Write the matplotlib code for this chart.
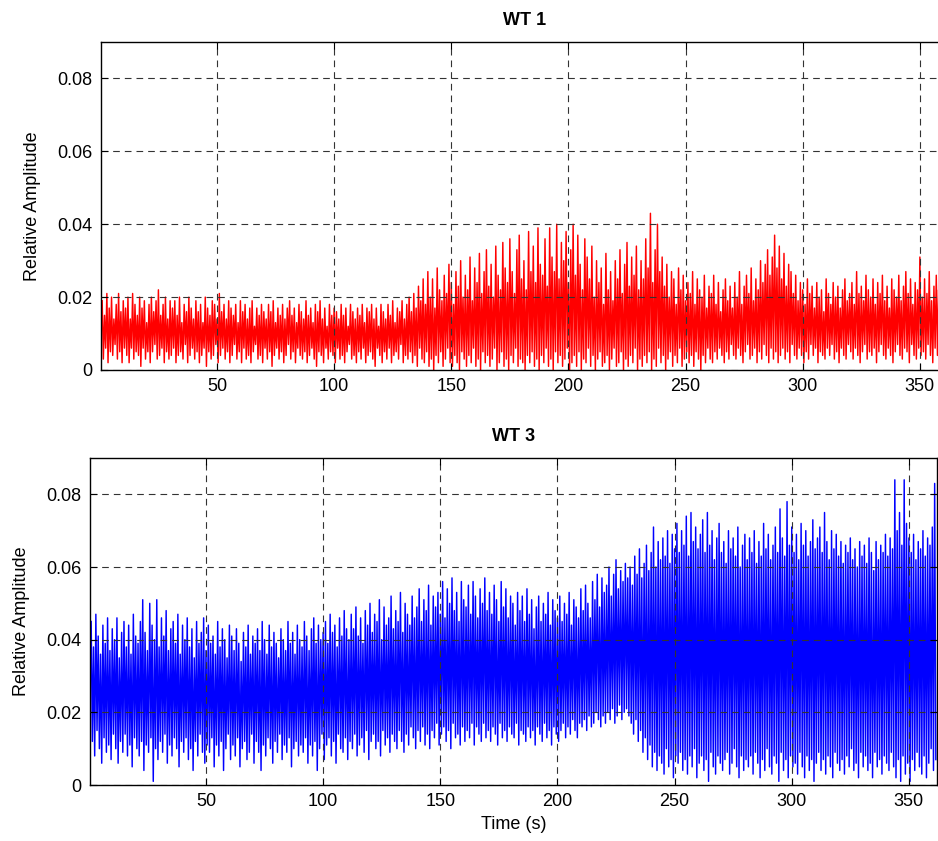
import matplotlib
matplotlib.use('Agg')
import matplotlib.pyplot as plt
import numpy as np

plt.rcParams['font.family'] = ['Liberation Sans', 'DejaVu Sans']

# peak / trough amplitudes in units of 0.001, one pair per second
wt1_peaks = [
    19, 15, 21, 17, 20, 14, 18, 21, 16, 19, 17, 20, 14, 21, 18, 15, 20, 17, 19, 13,
    18, 20, 16, 19, 22, 15, 18, 20, 14, 19, 17, 19, 15, 20, 13, 18, 16, 20, 17, 14,
    19, 16, 18, 13, 20, 17, 15, 19, 18, 14, 21, 16, 18, 14, 19, 17, 15, 18, 13, 19,
    16, 18, 14, 17, 19, 12, 17, 15, 18, 16, 14, 18, 16, 19, 13, 17, 15, 18, 14, 17,
    19, 15, 17, 13, 18, 16, 14, 19, 15, 17, 13, 18, 16, 19, 14, 17, 12, 18, 15, 17,
    16, 14, 18, 15, 17, 12, 18, 16, 14, 17, 15, 18, 13, 17, 16, 18, 14, 17, 12, 18,
    16, 14, 18, 15, 19, 13, 17, 16, 19, 14, 18, 20, 16, 21, 17, 23, 19, 25, 18, 27,
    20, 25, 17, 28, 22, 19, 26, 21, 29, 24, 18, 27, 23, 30, 20, 26, 22, 31, 19, 28,
    24, 32, 21, 27, 33, 23, 29, 20, 34, 26, 22, 35, 28, 24, 36, 27, 21, 33, 37, 25,
    30, 22, 38, 27, 34, 24, 39, 29, 26, 36, 23, 39, 31, 27, 40, 25, 35, 30, 38, 24,
    33, 40, 26, 37, 29, 22, 36, 31, 25, 34, 20, 30, 24, 28, 18, 32, 22, 27, 19, 30,
    25, 33, 21, 29, 35, 23, 31, 26, 34, 22, 30, 25, 36, 28, 43, 24, 33, 40, 27, 31,
    23, 29, 20, 27, 25, 18, 28, 22, 26, 19, 24, 21, 27, 18, 25, 22, 20, 26, 17, 23,
    21, 26, 18, 24, 16, 22, 25, 19, 23, 17, 24, 20, 27, 18, 23, 26, 21, 28, 19, 25,
    22, 30, 24, 29, 33, 26, 31, 37, 28, 34, 25, 32, 23, 29, 27, 21, 26, 19, 24, 22,
    18, 25, 21, 23, 17, 24, 20, 22, 16, 25, 21, 18, 24, 20, 23, 17, 22, 25, 19, 21,
    24, 18, 27, 21, 23, 19, 26, 22, 20, 25, 18, 24, 21, 26, 19, 23, 17, 25, 22, 20,
    26, 19, 23, 27, 21, 25, 18, 24, 22, 31, 20, 25, 21, 27, 19, 23, 26, 22,
]
wt1_troughs = [
    3, 6, 2, 5, 4, 7, 3, 5, 2, 6, 4, 2, 6, 3, 5, 4, 1, 6, 3, 5,
    2, 5, 7, 3, 4, 6, 2, 5, 3, 4, 6, 2, 4, 5, 3, 7, 2, 4, 6, 3,
    5, 2, 4, 6, 1, 5, 3, 4, 7, 2, 4, 6, 3, 5, 2, 4, 7, 3, 5, 2,
    6, 3, 4, 2, 5, 7, 3, 4, 2, 6, 3, 5, 1, 4, 6, 3, 5, 2, 4, 7,
    3, 5, 2, 6, 4, 3, 5, 2, 4, 6, 3, 1, 5, 4, 2, 6, 3, 5, 4, 2,
    6, 3, 4, 2, 5, 7, 3, 4, 2, 5, 3, 6, 2, 4, 5, 3, 1, 6, 4, 2,
    5, 3, 6, 2, 4, 5, 3, 7, 2, 4, 3, 5, 2, 4, 1, 6, 3, 2, 5, 1,
    3, 0, 4, 2, 5, 1, 3, 6, 2, 1, 4, 2, 0, 5, 3, 1, 4, 2, 6, 1,
    3, 0, 5, 2, 4, 1, 3, 6, 0, 2, 5, 1, 3, 0, 4, 2, 6, 1, 3, 2,
    0, 4, 2, 5, 1, 3, 0, 4, 2, 6, 1, 3, 0, 5, 2, 4, 1, 3, 6, 0,
    2, 4, 1, 5, 0, 3, 2, 6, 1, 4, 0, 3, 5, 1, 2, 4, 0, 3, 6, 1,
    2, 5, 0, 3, 1, 4, 2, 6, 0, 3, 1, 4, 2, 5, 0, 3, 1, 6, 2, 4,
    0, 3, 5, 1, 4, 2, 6, 1, 3, 5, 2, 4, 1, 5, 3, 0, 4, 2, 6, 3,
    2, 5, 3, 6, 4, 2, 5, 3, 7, 4, 3, 6, 4, 2, 5, 7, 3, 4, 6, 2,
    5, 3, 7, 4, 2, 6, 3, 5, 2, 4, 6, 3, 5, 2, 7, 4, 3, 6, 4, 2,
    5, 3, 7, 4, 6, 2, 5, 4, 3, 6, 4, 7, 3, 5, 2, 6, 4, 3, 7, 5,
    3, 6, 4, 2, 5, 7, 3, 5, 4, 6, 2, 5, 7, 4, 3, 6, 4, 2, 5, 7,
    4, 3, 6, 5, 2, 7, 4, 3, 6, 4, 5, 3, 7, 4, 2, 6, 4, 5,
]
wt3_peaks = [
    45, 38, 47, 41, 36, 44, 39, 46, 37, 43, 40, 46, 35, 42, 45, 38, 44, 36, 47, 41,
    39, 45, 51, 42, 37, 50, 44, 40, 51, 38, 46, 41, 48, 37, 43, 45, 39, 47, 36, 44,
    40, 46, 38, 43, 35, 45, 39, 42, 46, 37, 44, 39, 41, 36, 45, 38, 43, 40, 35, 44,
    41, 37, 43, 39, 34, 42, 38, 44, 36, 41, 39, 43, 37, 45, 40, 36, 44, 38, 42, 39,
    35, 43, 40, 37, 45, 39, 42, 36, 44, 40, 38, 45, 41, 37, 43, 46, 39, 44, 40, 42,
    45, 39, 47, 42, 44, 38, 46, 41, 48, 43, 40, 47, 43, 49, 41, 46, 39, 48, 44, 50,
    42, 47, 45, 51, 40, 49, 44, 46, 52, 43, 48, 45, 53, 42, 50, 47, 44, 52, 46, 49,
    54, 45, 51, 48, 55, 44, 52, 49, 53, 47, 56, 46, 54, 50, 57, 48, 53, 45, 56, 51,
    49, 55, 47, 56, 52, 46, 54, 50, 57, 48, 53, 47, 55, 51, 45, 56, 49, 54, 46, 52,
    50, 44, 53, 48, 52, 45, 54, 47, 51, 43, 49, 52, 45, 50, 47, 53, 44, 51, 48, 46,
    52, 45, 50, 47, 53, 44, 51, 49, 46, 54, 48, 55, 50, 46, 56, 51, 58, 49, 57, 53,
    55, 60, 52, 58, 62, 54, 59, 56, 61, 57, 60, 55, 63, 58, 65, 57, 61, 66, 59, 64,
    71, 60, 67, 62, 68, 63, 70, 61, 69, 65, 72, 64, 70, 66, 74, 63, 75, 67, 71, 65,
    69, 73, 64, 75, 66, 70, 62, 68, 72, 64, 67, 61, 70, 65, 68, 63, 71, 60, 66, 69,
    62, 68, 64, 70, 61, 67, 63, 72, 65, 69, 62, 66, 71, 64, 76, 68, 63, 78, 66, 71,
    64, 69, 62, 72, 66, 70, 63, 67, 73, 65, 68, 71, 64, 75, 67, 62, 70, 65, 69, 63,
    67, 61, 66, 64, 68, 62, 65, 60, 67, 63, 66, 61, 68, 64, 59, 67, 62, 66, 64, 69,
    63, 68, 65, 84, 70, 75, 66, 84, 72, 68, 64, 69, 62, 67, 65, 70, 63, 68, 66, 71,
    83,
]
wt3_troughs = [
    12, 8, 15, 10, 6, 13, 9, 11, 7, 14, 10, 6, 12, 9, 14, 8, 11, 5, 13, 10,
    8, 12, 4, 11, 9, 13, 1, 10, 7, 12, 9, 14, 6, 11, 8, 13, 10, 5, 12, 9,
    13, 7, 10, 4, 12, 8, 14, 9, 6, 11, 9, 13, 5, 11, 8, 12, 4, 10, 14, 7,
    11, 8, 13, 5, 10, 12, 7, 9, 14, 6, 12, 9, 4, 11, 8, 13, 10, 6, 12, 9,
    14, 7, 11, 9, 13, 5, 10, 12, 8, 11, 9, 13, 6, 11, 8, 12, 4, 10, 14, 7,
    11, 13, 8, 12, 6, 14, 10, 9, 13, 7, 12, 10, 14, 8, 11, 13, 9, 15, 7, 12,
    14, 10, 12, 8, 15, 11, 13, 9, 14, 12, 10, 15, 12, 9, 14, 11, 16, 13, 10, 15,
    12, 16, 11, 14, 10, 15, 13, 17, 11, 14, 16, 12, 15, 10, 17, 13, 14, 11, 16, 12,
    15, 13, 17, 11, 16, 14, 12, 17, 13, 15, 12, 16, 14, 11, 17, 13, 15, 12, 16, 14,
    13, 17, 11, 15, 14, 12, 16, 13, 15, 11, 16, 14, 12, 17, 13, 15, 11, 16, 14, 12,
    15, 17, 13, 16, 14, 18, 15, 13, 17, 16, 18, 15, 19, 16, 17, 20, 18, 16, 19, 17,
    20, 18, 21, 17, 19, 22, 18, 20, 21, 19, 17, 14, 18, 12, 15, 9, 13, 7, 11, 5,
    9, 4, 8, 6, 3, 10, 5, 7, 2, 8, 6, 9, 4, 7, 3, 8, 5, 10, 2, 6,
    8, 4, 7, 1, 9, 5, 3, 8, 6, 4, 7, 9, 3, 6, 10, 5, 2, 8, 4, 7,
    5, 8, 3, 9, 6, 2, 7, 4, 10, 5, 3, 8, 6, 1, 9, 4, 7, 2, 8, 5,
    6, 3, 9, 5, 2, 8, 4, 7, 1, 6, 9, 4, 7, 3, 8, 5, 2, 9, 6, 4,
    7, 3, 8, 5, 10, 4, 6, 2, 9, 5, 8, 4, 6, 2, 9, 5, 7, 3, 8, 6,
    4, 9, 5, 2, 7, 1, 8, 3, 6, 1, 7, 4, 9, 5, 3, 8, 2, 6, 10, 4,
    7,
]

x_ticks = [50, 100, 150, 200, 250, 300, 350]
y_ticks = [0, 0.02, 0.04, 0.06, 0.08]
y_tick_labels = ['0', '0.02', '0.04', '0.06', '0.08']


def zigzag(peaks, troughs):
    # one peak and one trough sample per second
    t = np.arange(1, len(peaks) + 1, dtype=float)
    x = np.column_stack([t, t + 0.5]).ravel()
    y = np.column_stack([peaks, troughs]).ravel() / 1000.0
    return x, y


def style_axes(ax, title, show_xlabel=False):
    ax.set_xlim(0.5, 362)
    ax.set_ylim(0, 0.09)
    ax.set_xticks(x_ticks)
    ax.set_yticks(y_ticks)
    ax.set_yticklabels(y_tick_labels)
    ax.tick_params(direction='in', top=True, right=True, length=5,
                   width=0.8, labelsize=13, pad=6)
    ax.grid(True, color='#333333', linestyle=(0, (6, 4.5)), linewidth=0.8)
    ax.set_axisbelow(False)
    for s in ax.spines.values():
        s.set_linewidth(1.0)
    ax.set_title(title, fontsize=13, fontweight='bold', pad=12)
    ax.set_ylabel('Relative Amplitude', fontsize=13, labelpad=12)
    if show_xlabel:
        ax.set_xlabel('Time (s)', fontsize=13, labelpad=4)


W, H = 938, 841
fig = plt.figure(figsize=(W / 100, H / 100), dpi=100)

ax1 = fig.add_axes([101 / W, (H - 370) / H, 847 / W, 328 / H])
x1, y1 = zigzag(wt1_peaks, wt1_troughs)
ax1.plot(x1, y1, color='red', linewidth=1.05)
style_axes(ax1, 'WT 1')

ax2 = fig.add_axes([90 / W, (H - 785) / H, 847 / W, 327 / H])
x2, y2 = zigzag(wt3_peaks, wt3_troughs)
ax2.plot(x2, y2, color='blue', linewidth=1.05)
style_axes(ax2, 'WT 3', show_xlabel=True)

fig.savefig('out.png', dpi=100)
